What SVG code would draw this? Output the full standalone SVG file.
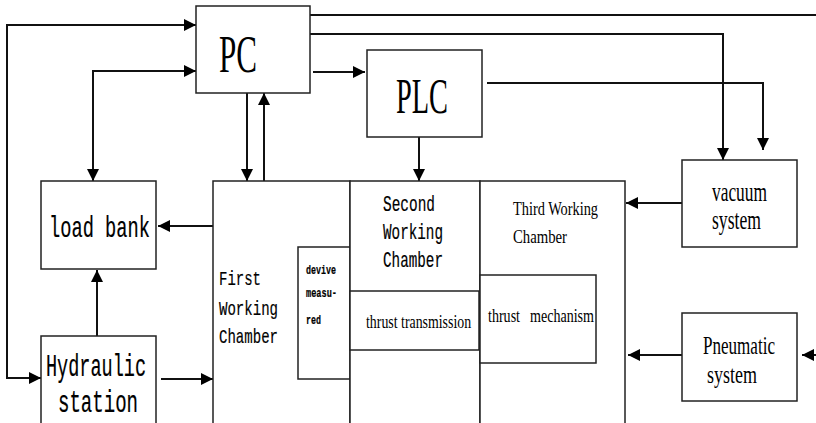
<svg xmlns="http://www.w3.org/2000/svg" width="816" height="423" viewBox="0 0 816 423">
<defs>
<marker id="ah" markerWidth="12" markerHeight="12" refX="12" refY="6" markerUnits="userSpaceOnUse" orient="auto-start-reverse">
<path d="M0,0 L12,6 L0,12 z" fill="#000"/>
</marker>
<style>
.box{fill:#fff;stroke:#222;stroke-width:1.5}
.ln{fill:none;stroke:#111;stroke-width:2}
.ar{fill:none;stroke:#111;stroke-width:2;marker-end:url(#ah)}
.ar2{fill:none;stroke:#111;stroke-width:2;marker-end:url(#ah);marker-start:url(#ah)}
.tr{font-family:"Liberation Serif",serif;fill:#000}
.mo{font-family:"Liberation Mono",monospace;fill:#000;stroke:#000;stroke-width:0.2}
</style>
</defs>
<rect width="816" height="423" fill="#fff"/>
<g id="connectors">
<path class="ar2" d="M196,25 H7 V378 H41"/>
<path class="ar2" d="M196,71 H93 V181"/>
<path class="ar" d="M247,93 V181"/>
<path class="ar" d="M264,181 V93"/>
<path class="ar" d="M313,72 H365"/>
<path class="ln" d="M310,15 H816"/>
<path class="ar" d="M310,34 H723 V160"/>
<path class="ar" d="M487,83 H763 V150"/>
<path class="ar" d="M419,137 V181"/>
<path class="ar" d="M213,226 H158"/>
<path class="ar" d="M97,336 V270"/>
<path class="ar" d="M161,379 H213"/>
<path class="ar" d="M682,203 H626"/>
<path class="ar" d="M682,355 H628"/>
<path class="ar" d="M816,355 H802"/>
</g>
<g id="pc">
<rect class="box" x="196" y="6" width="114" height="87"/>
<text class="tr" x="219" y="72" font-size="52" textLength="38" lengthAdjust="spacingAndGlyphs">PC</text>
</g>
<g id="plc">
<rect class="box" x="367" y="50" width="115" height="87"/>
<text class="tr" x="396" y="113" font-size="50" textLength="52" lengthAdjust="spacingAndGlyphs">PLC</text>
</g>
<g id="loadbank">
<rect class="box" x="41" y="181" width="115" height="88"/>
<text class="mo" x="49" y="237" font-size="30" textLength="101" lengthAdjust="spacingAndGlyphs">load bank</text>
</g>
<g id="hydraulic">
<rect class="box" x="41" y="336" width="115" height="90"/>
<text class="mo" x="46" y="376" font-size="31" textLength="100" lengthAdjust="spacingAndGlyphs">Hydraulic</text>
<text class="mo" x="58" y="412" font-size="31" textLength="80" lengthAdjust="spacingAndGlyphs">station</text>
</g>
<g id="first">
<rect class="box" x="213" y="181" width="137" height="245"/>
<text class="mo" font-size="21"><tspan x="219" y="285" textLength="42" lengthAdjust="spacingAndGlyphs">First</tspan><tspan x="219" y="315" textLength="59" lengthAdjust="spacingAndGlyphs">Working</tspan><tspan x="219" y="343" textLength="59" lengthAdjust="spacingAndGlyphs">Chamber</tspan></text>
</g>
<g id="device">
<rect class="box" x="298" y="247" width="52" height="132"/>
<text class="mo" font-size="13" font-weight="bold"><tspan x="306" y="274" textLength="30" lengthAdjust="spacingAndGlyphs">devive</tspan><tspan x="306" y="297" textLength="31" lengthAdjust="spacingAndGlyphs">measu-</tspan><tspan x="306" y="324" textLength="15" lengthAdjust="spacingAndGlyphs">red</tspan></text>
</g>
<g id="second">
<rect class="box" x="350" y="181" width="130" height="245"/>
<text class="mo" font-size="22"><tspan x="383" y="211" textLength="52" lengthAdjust="spacingAndGlyphs">Second</tspan><tspan x="383" y="239" textLength="60" lengthAdjust="spacingAndGlyphs">Working</tspan><tspan x="383" y="267" textLength="60" lengthAdjust="spacingAndGlyphs">Chamber</tspan></text>
</g>
<g id="transmission">
<rect class="box" x="350" y="291" width="129" height="59"/>
<text class="tr" transform="translate(366,328) scale(0.72,1)" x="0" y="0" font-size="19" textLength="146" lengthAdjust="spacingAndGlyphs">thrust transmission</text>
</g>
<g id="third">
<rect class="box" x="480" y="181" width="145" height="245"/>
<text class="tr" font-size="19"><tspan x="513" y="215" textLength="85" lengthAdjust="spacingAndGlyphs">Third Working</tspan><tspan x="513" y="243" textLength="54" lengthAdjust="spacingAndGlyphs">Chamber</tspan></text>
</g>
<g id="mechanism">
<rect class="box" x="480" y="275" width="116" height="88"/>
<text class="tr" x="488" y="322" font-size="19" textLength="32" lengthAdjust="spacingAndGlyphs">thrust</text>
<text class="tr" x="530" y="322" font-size="19" textLength="64" lengthAdjust="spacingAndGlyphs">mechanism</text>
</g>
<g id="vacuum">
<rect class="box" x="682" y="160" width="115" height="87"/>
<text class="tr" x="712" y="201" font-size="27" textLength="55" lengthAdjust="spacingAndGlyphs">vacuum</text>
<text class="tr" x="712" y="229" font-size="27" textLength="49" lengthAdjust="spacingAndGlyphs">system</text>
</g>
<g id="pneumatic">
<rect class="box" x="682" y="313" width="115" height="88"/>
<text class="tr" x="703" y="354" font-size="26" textLength="72" lengthAdjust="spacingAndGlyphs">Pneumatic</text>
<text class="tr" x="707" y="383" font-size="26" textLength="50" lengthAdjust="spacingAndGlyphs">system</text>
</g>
</svg>
